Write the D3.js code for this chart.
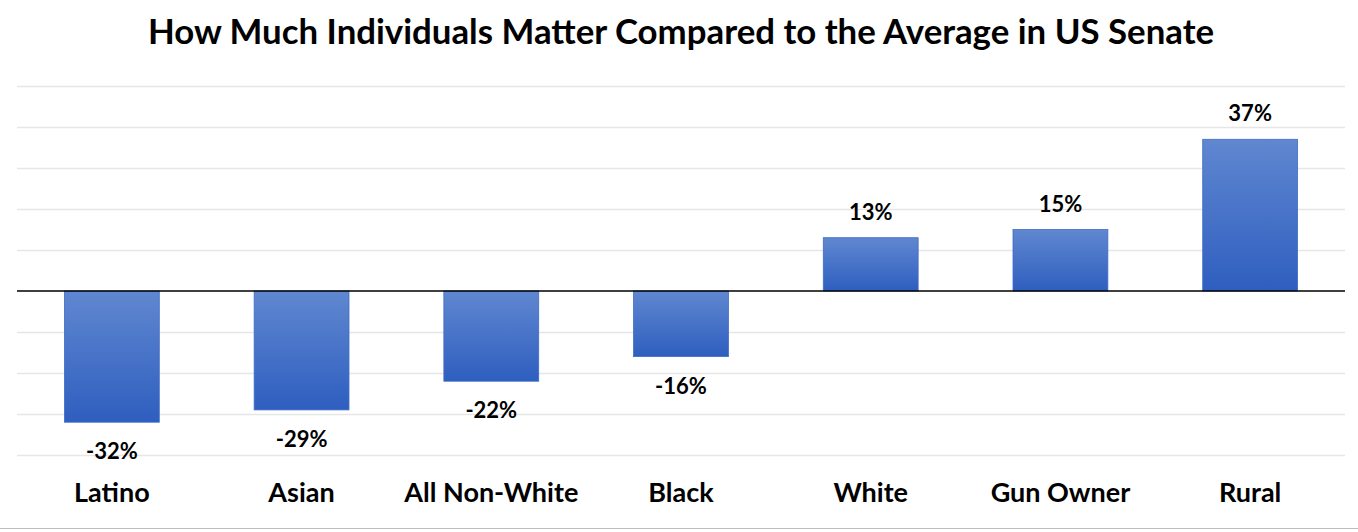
<!DOCTYPE html>
<html><head><meta charset="utf-8">
<script src="https://cdn.jsdelivr.net/npm/d3@7"></script>
<style>body{margin:0;background:#fff;} svg{display:block;}</style>
</head><body>
<svg id="c" width="1358" height="532"></svg>
<script>
const categories = ["Latino","Asian","All Non-White","Black","White","Gun Owner","Rural"];
const values = [-32,-29,-22,-16,13,15,37];
const gridTicks = [-40,-30,-20,-10,0,10,20,30,40,50];
const title = "How Much Individuals Matter Compared to the Average in US Senate";

(function(){
const svg = d3.select("#c");
const W = 1358, H = 532;
const pL = 17, pR = 1345, pT = 86, pB = 455;
const font = "Lato, 'Open Sans', sans-serif";

const defs = svg.append("defs");
const g1 = defs.append("linearGradient").attr("id","bg").attr("x1",0).attr("y1",0).attr("x2",0).attr("y2",1);
g1.append("stop").attr("offset","0%").attr("stop-color","#6087d0");
g1.append("stop").attr("offset","100%").attr("stop-color","#2e5ebf");

const x = d3.scaleBand().domain(categories).range([pL,pR]).paddingInner(0.5).paddingOuter(0.25);
const y = d3.scaleLinear().domain([-40,50]).range([pB,pT]);

svg.append("rect").attr("width",W).attr("height",H).attr("fill","#fff");

svg.append("text").attr("x",681).attr("y",44).attr("text-anchor","middle")
  .attr("font-family",font).attr("font-weight",700).attr("font-size",34.8).attr("fill","#000").text(title);

const yAxis = d3.axisLeft(y).tickValues(gridTicks.filter(d=>d!==0)).tickSize(-(pR-pL)).tickFormat("");
const ga = svg.append("g").attr("transform",`translate(${pL},0)`).call(yAxis);
ga.select(".domain").remove();
ga.selectAll("line").attr("stroke","#e6e6e6").attr("stroke-width",1.3);

svg.selectAll("rect.bar").data(values).enter().append("rect").attr("class","bar")
  .attr("x",(d,i)=>x(categories[i]))
  .attr("width",x.bandwidth())
  .attr("y",d=>y(Math.max(0,d)))
  .attr("height",d=>Math.abs(y(d)-y(0)))
  .attr("fill","url(#bg)").attr("stroke","#3f6cc6").attr("stroke-width",0.8);

svg.append("line").attr("x1",pL).attr("x2",pR).attr("y1",y(0)).attr("y2",y(0))
  .attr("stroke","#000").attr("stroke-width",1.6);

svg.selectAll("text.val").data(values).enter().append("text").attr("class","val")
  .attr("x",(d,i)=>x(categories[i])+x.bandwidth()/2)
  .attr("y",d=> d>=0 ? y(d)-18 : y(d)+37)
  .attr("text-anchor","middle").attr("font-family",font).attr("font-weight",700)
  .attr("font-size",22).attr("fill","#000").text(d=>d+"%");

const xAxis = d3.axisBottom(x).tickSize(0).tickPadding(0);
const gx = svg.append("g").attr("transform",`translate(0,483)`).call(xAxis);
gx.select(".domain").remove();
gx.selectAll("text").attr("font-family",font).attr("font-weight",700).attr("font-size",27).attr("fill","#000");

svg.append("line").attr("x1",0).attr("x2",W).attr("y1",528.5).attr("y2",528.5).attr("stroke","#bdbdbd").attr("stroke-width",1);
})();
</script>
</body></html>
